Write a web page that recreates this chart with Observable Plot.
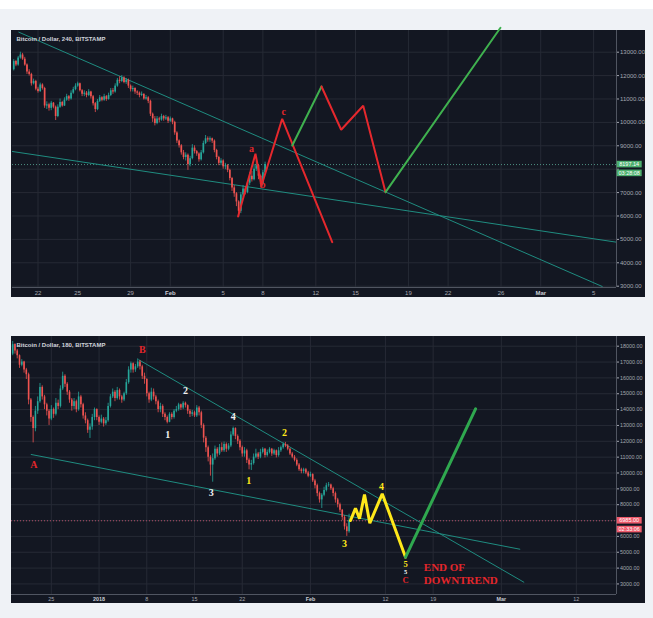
<!DOCTYPE html>
<html><head><meta charset="utf-8">
<script src="https://cdn.jsdelivr.net/npm/d3@7"></script>
<script src="https://cdn.jsdelivr.net/npm/@observablehq/plot@0.6"></script>
<style>
body{margin:0;background:#eff2f6;width:653px;height:618px;position:relative;overflow:hidden;font-family:"Liberation Sans",Arial,sans-serif}
#top{position:absolute;left:0;top:0;width:653px;height:9px;background:#fff}
#p1{position:absolute;left:11px;top:30px}
#p2{position:absolute;left:11px;top:336px}
svg{overflow:visible}
</style></head><body>
<div id="top"></div><div id="p1"></div><div id="p2"></div>
<script>
// ---------- Panel 1: Bitcoin / Dollar, 240, BITSTAMP ----------
const p1Title = "Bitcoin / Dollar, 240, BITSTAMP";
const p1Start = "2018-01-20T04:00Z"; // first 4h candle
const p1Open0 = 12250;
const p1Closes = [12600,12450,12750,12880,12700,12450,12150,12050,11650,11750,
11420,11320,11600,11450,10700,10750,10600,10820,10650,10250,
10650,10850,10700,10950,11100,11000,11250,11400,11550,11650,
11350,11200,11250,11150,11300,11100,10800,10550,10900,11050,
10950,11100,10980,11150,11350,11300,11550,11800,11750,11900,
11700,11800,11550,11400,11450,11300,11250,11150,11200,11000,
11050,10900,10350,10150,9950,10150,10100,10250,10150,10200,
10050,10150,10000,9550,9200,9000,8700,8500,8600,8200,
8450,8900,8750,8650,8400,8700,9100,9300,9250,9300,
9200,8800,8500,8250,8350,8100,8150,7950,7600,7200,
6950,6600,6200,6900,7150,7000,7400,7700,7550,8000,
8150,7700,7350,7850,8197.14];
const p1Highs = [12680,12650,12820,13000,12950,12780,12500,12250,12100,11850,
11800,11500,11680,11650,11500,10880,10820,10900,10850,10700,
10750,11000,10900,11050,11200,11150,11350,11500,11650,11720,
11680,11400,11350,11320,11400,11330,11150,10850,10980,11150,
11100,11200,11150,11250,11450,11450,11650,11880,11950,12000,
11950,11880,11850,11600,11550,11480,11350,11300,11300,11220,
11150,11100,10950,10400,10250,10250,10220,10350,10300,10300,
10250,10230,10180,10050,9600,9250,9050,8800,8700,8650,
8550,9050,9000,8800,8700,8800,9200,9440,9380,9380,
9330,9250,8850,8550,8450,8400,8250,8200,8000,7650,
7300,7000,6650,7000,7300,7250,7500,7850,7900,8200,
8350,8200,7750,7950,8300];
const p1Lows = [12200,12380,12400,12700,12650,12400,12050,11980,11550,11600,
11350,11250,11280,11380,10600,10550,10480,10500,10580,10080,
10200,10600,10650,10680,10900,10900,10950,11200,11350,11500,
11300,11100,11100,11050,11100,11000,10700,10420,10500,10850,
10880,10900,10900,10950,11100,11200,11250,11500,11650,11700,
11650,11620,11450,11300,11300,11200,11150,11050,11100,10950,
10950,10800,10250,10000,9850,9900,9980,10050,10050,10080,
9950,10000,9900,9450,9100,8900,8600,8400,8350,7950,
8100,8400,8650,8550,8300,8350,8650,9050,9150,9150,
9100,8700,8400,8150,8150,8000,7980,7850,7500,7050,
6800,6400,5950,6100,6800,6900,6950,7300,7450,7500,
7900,7550,7200,7300,7800];
const p1Last = 8197.14, p1LastText = "8197.14", p1Timer = "03:28:08";
const p1TickDates = ["2018-01-22","2018-01-25","2018-01-29","2018-02-01","2018-02-05","2018-02-08","2018-02-12","2018-02-15","2018-02-19","2018-02-22","2018-02-26","2018-03-01","2018-03-05"];
const p1TickLabels = ["22","25","29","Feb","5","8","12","15","19","22","26","Mar","5"];
const p1PriceTicks = [3000,4000,5000,6000,7000,8000,9000,10000,11000,12000,13000];
const p1HiddenPrice = [8000];
const p1TrendUpper = [["2018-01-20T13:12",13855],["2018-03-05T15:36",2987]];
const p1TrendLower = [["2018-01-20T01:40",8756],["2018-03-06T17:30",4880]];
const p1Red1 = [["2018-02-06T03:00",5979],["2018-02-07T10:30",8658],["2018-02-07T21:30",7303],["2018-02-09T11:00",10154],["2018-02-13T05:45",4880]];
const p1Green1 = [["2018-02-10T05:15",9013],["2018-02-12T10:20",11534]];
const p1Red2 = [["2018-02-12T10:20",11534],["2018-02-13T22:00",9684],["2018-02-15T14:00",10709],["2018-02-17T06:30",7017]];
const p1Green2 = [["2018-02-17T06:30",7017],["2018-02-25T23:00",14043]];
const p1Labels = [["2018-02-07T03:20",8871,"a"],["2018-02-07T23:45",7333,"b"],["2018-02-09T14:00",10436,"c"]];

// ---------- Panel 2: Bitcoin / Dollar, 180, BITSTAMP ----------
const p2Title = "Bitcoin / Dollar, 180, BITSTAMP";
const p2Start = "2017-12-19T08:00Z";
const p2Open0 = 17500;
const p2Closes = [18100,17700,17400,16800,17000,16500,16200,14600,13500,12800,
13900,14500,15400,14800,14300,13900,13400,14000,13700,14400,
14200,15300,16100,15600,15100,14600,14200,14500,14000,14800,
14300,13600,13300,12700,12900,13500,14000,13500,13200,13400,
13100,13300,14200,14800,15100,14700,15200,14800,14600,15000,
15700,16500,16900,16500,16700,17000,16700,16100,15900,15000,
14600,15100,14800,14500,14000,14200,13700,13500,13200,13700,
13500,13900,14000,14300,14100,14400,14250,13900,13700,13800,
13600,14100,13800,13000,12200,11600,11000,10500,10900,11500,
11200,11600,11400,11800,11500,11700,12400,12800,12300,12000,
11600,11200,11400,10800,10500,10600,11000,11200,11000,11300,
11500,11100,11300,11500,11200,11400,11100,11400,11600,11800,
11700,11500,11200,11000,10800,10500,10200,10100,10200,10000,
9800,9900,9500,9200,8700,8300,8600,8900,9200,9250,
9000,8700,8300,8000,7650,7200,6600,6300,6985];
const p2Highs = [18300,18150,17800,17450,17150,17050,16600,16300,14700,13600,
14200,14800,15650,15500,14900,14400,14000,14250,14100,14700,
14600,15500,16360,16200,15700,15200,14700,14700,14600,15100,
14900,14400,13800,13400,13100,13700,14100,14050,13600,13650,
13500,13500,14400,14950,15300,15200,15400,15300,14900,15100,
15900,16700,17000,16950,16850,17200,17100,16800,16300,15950,
15100,15350,15300,14900,14600,14400,14300,13800,13600,13800,
13800,14000,14200,14400,14350,14500,14470,14300,14000,13950,
13900,14250,14200,13900,13100,12300,11700,11100,11200,11700,
11600,11800,11900,11950,11900,11850,12600,12900,12850,12400,
12100,11700,11600,11500,10900,10800,11200,11500,11300,11500,
11600,11550,11450,11600,11550,11500,11450,11600,11700,11900,
11930,11800,11550,11300,11100,10900,10600,10300,10300,10290,
10100,10050,9950,9600,9300,8800,8700,9100,9350,9400,
9300,9100,8800,8400,8100,7700,7300,6800,7400];
const p2Lows = [17400,17500,17200,16600,16700,16300,15900,14300,13200,11900,
12600,13700,14400,14600,14000,13600,13000,13300,13450,13600,
14000,14100,15200,15400,14900,14400,13900,14000,13800,13900,
14100,13400,13100,12500,12180,12700,13300,13300,13000,13100,
12900,13000,13200,14100,14700,14500,14600,14600,14400,14500,
14900,15600,16300,16300,16350,16600,16500,15900,15600,14800,
14400,14500,14600,14300,13800,13800,13500,13300,13100,13170,
13350,13400,13800,13900,13950,14000,14100,13700,13500,13550,
13500,13500,13600,12800,11900,11300,10700,9800,9420,10800,
11000,11100,11300,11300,11300,11400,11600,12300,12100,11800,
11400,11000,11000,10600,10200,10160,10500,10900,10850,10900,
11200,10950,11000,11200,11050,11100,10950,11000,11300,11500,
11600,11400,11100,10900,10700,10400,10100,9950,9950,9900,
9700,9720,9400,9000,8500,8100,7760,8500,8800,9100,
8900,8500,8100,7800,7500,7000,6400,6000,6200];
const p2Last = 6985, p2LastText = "6985.00", p2Timer = "02:33:06";
const p2TickDates = ["2017-12-25","2018-01-01","2018-01-08","2018-01-15","2018-01-22","2018-02-01","2018-02-12","2018-02-19","2018-03-01","2018-03-12"];
const p2TickLabels = ["25","2018","8","15","22","Feb","12","19","Mar","12"];
const p2PriceTicks = [3000,4000,5000,6000,7000,8000,9000,10000,11000,12000,13000,14000,15000,16000,17000,18000];
const p2HiddenPrice = [7000];
const p2TrendUpper = [["2018-01-06T20:00",17142],["2018-03-04T07:10",3110]];
const p2TrendLower = [["2017-12-22T01:10",11167],["2018-03-03T17:00",5192]];
const p2Yellow = [["2018-02-06T21:07",7003],["2018-02-07T14:38",7779],["2018-02-08T04:48",7110],["2018-02-08T22:19",8644],["2018-02-09T17:02",6833],["2018-02-11T12:43",8688],["2018-02-14T22:48",4688]];
const p2Green = [["2018-02-14T22:48",4688],["2018-02-25T05:17",14050]];
const p2Labels = [
  ["2017-12-22T10:20",10536,"A","red",10],
  ["2018-01-07T08:00",17773,"B","red",10],
  ["2018-01-13T16:20",15205,"2","white",10],
  ["2018-01-11T02:00",12429,"1","white",10],
  ["2018-01-20T16:00",13565,"4","white",10],
  ["2018-01-17T10:50",8726,"3","white",10],
  ["2018-01-28T04:50",12555,"2","yellow",10],
  ["2018-01-22T23:00",9483,"1","yellow",10],
  ["2018-02-06T00:00",5533,"3","yellow",10],
  ["2018-02-11T10:20",9104,"4","yellow",10],
  ["2018-02-14T22:50",4260,"5","yellow",8.5],
  ["2018-02-14T22:50",3754,"5","white",6.5],
  ["2018-02-14T22:50",3230,"C","red",8.5]
];
const p2Notes = [["2018-02-17T15:10",4030,"END OF"],["2018-02-17T15:10",3240,"DOWNTREND"]];

// ---------- helpers ----------
const UP = "#26a69a", DOWN = "#ef5350";
const GRID = "#262a35", BORDER = "#505561", TREND = "#1f8c80";
const LABEL_COLORS = {red: "#e3262b", white: "#f2f2f2", yellow: "#ffe81a"};
const toDate = s => new Date(s.endsWith("Z") ? s : s + "Z");
const pts = arr => arr.map(([d, v]) => ({date: toDate(d), value: v}));
function candles(start, stepH, open0, closes, highs, lows) {
  const t0 = Date.parse(start);
  return closes.map((c, i) => ({
    date: new Date(t0 + i * stepH * 3600e3),
    open: i ? closes[i - 1] : open0, close: c, high: highs[i], low: lows[i]
  }));
}
const col = d => d.close >= d.open ? UP : DOWN;

function panel(o) {
  const tickDates = o.tickDates.map(s => toDate(s + "T00:00"));
  const cs = o.candles;
  const marks = [
    Plot.ruleY(o.priceTicks, {stroke: GRID}),
    Plot.ruleX(tickDates, {stroke: GRID}),
    Plot.ruleY([o.last], {stroke: o.lastLine, strokeDasharray: "1,2", strokeWidth: 1}),
    ...o.trends.map(t => Plot.line(pts(t), {x: "date", y: "value", stroke: TREND, strokeWidth: 1})),
    Plot.ruleX(cs, {x: "date", y1: "low", y2: "high", stroke: col, strokeWidth: 0.8}),
    Plot.ruleX(cs, {x: "date", y1: "open", y2: "close", stroke: col, strokeWidth: o.bodyW}),
    ...o.paths.map(p => Plot.line(pts(p.data), {x: "date", y: "value", stroke: p.color, strokeWidth: p.w, strokeLinejoin: "miter"})),
    Plot.text([o.title], {frameAnchor: "top-left", textAnchor: "start", lineAnchor: "middle", dx: o.titleDx, dy: 9, fill: "#d1d4dc", fontWeight: "bold", fontSize: 6, fontFamily: "Liberation Sans, Arial, sans-serif"}),
    Plot.text(o.labels, {x: d => toDate(d[0]), y: d => d[1], text: d => d[2], fill: d => LABEL_COLORS[d[3]], fontSize: d => d[4], fontWeight: "bold", fontFamily: "Liberation Serif, DejaVu Serif, serif"}),
    ...(o.notes ? [Plot.text(o.notes, {x: d => toDate(d[0]), y: d => d[1], text: d => d[2], fill: LABEL_COLORS.red, fontSize: 11, fontWeight: "bold", textAnchor: "start", fontFamily: "Liberation Serif, DejaVu Serif, serif"})] : []),
    Plot.ruleX([o.xDomain[1]], {stroke: BORDER}),
    Plot.ruleY([o.yDomain[0]], {stroke: BORDER})
  ];
  const plot = Plot.plot({
    width: 634, height: 267,
    marginLeft: o.mLeft, marginRight: 29, marginTop: 0, marginBottom: o.mBottom,
    style: {background: "#131722", color: "#a4a7b0", fontSize: o.axisFont + "px", fontFamily: "Liberation Sans, Arial, sans-serif", overflow: "visible"},
    x: {type: "utc", domain: o.xDomain, ticks: tickDates, label: null, tickSize: 0, tickPadding: o.xPad,
        tickFormat: d => o.tickLabels[tickDates.findIndex(t => +t === +d)]},
    y: {domain: o.yDomain, axis: "right", ticks: o.priceTicks, label: null, tickSize: 2, tickPadding: 1.5,
        tickFormat: v => o.hidden.includes(v) ? "" : v.toFixed(2)},
    marks
  });
  // bold month/year labels
  d3.select(plot).selectAll("text").each(function () {
    const t = this.textContent;
    if (t === "Feb" || t === "Mar" || t === "2018") d3.select(this).attr("font-weight", "bold").attr("fill", "#c9ccd4");
  });
  // last-price tag boxes on the price scale
  const ys = plot.scale("y"), xs = plot.scale("x");
  const yOf = v => ys.range[0] + (v - ys.domain[0]) / (ys.domain[1] - ys.domain[0]) * (ys.range[1] - ys.range[0]);
  const x0 = xs.range[1] + 0.7, y0 = yOf(o.last);
  const g = d3.select(plot).append("g").attr("font-family", "Liberation Sans, Arial, sans-serif").attr("font-size", 5.5).attr("fill", "#fff").attr("text-anchor", "middle");
  [[o.lastText, 0], [o.timer, 8.8]].forEach(([txt, off]) => {
    g.append("rect").attr("x", x0).attr("y", y0 + off - 3.3).attr("width", 25).attr("height", 6.6).attr("fill", o.tagColor);
    g.append("text").attr("x", x0 + 12.5).attr("y", y0 + off).attr("dy", "0.35em").text(txt);
  });
  return plot;
}

const c1 = candles(p1Start, 4, p1Open0, p1Closes, p1Highs, p1Lows);
document.getElementById("p1").append(panel({
  title: p1Title, titleDx: 4, candles: c1, bodyW: 1.7,
  xDomain: [toDate("2018-01-20T01:44"), toDate("2018-03-06T17:30")],
  yDomain: [2944, 13927], mLeft: 1, mBottom: 10, xPad: 3, axisFont: 6,
  tickDates: p1TickDates, tickLabels: p1TickLabels, priceTicks: p1PriceTicks, hidden: p1HiddenPrice,
  last: p1Last, lastText: p1LastText, timer: p1Timer, lastLine: "#4d8f82", tagColor: "#4caf6e",
  trends: [p1TrendUpper, p1TrendLower],
  paths: [
    {data: p1Red1, color: "#e5282d", w: 2},
    {data: p1Green1, color: "#3fb14f", w: 2},
    {data: p1Red2, color: "#e5282d", w: 2},
    {data: p1Green2, color: "#3fb14f", w: 2}
  ],
  labels: p1Labels.map(d => [d[0], d[1], d[2], "red", 10])
}));

const c2 = candles(p2Start, 8, p2Open0, p2Closes, p2Highs, p2Lows);
document.getElementById("p2").append(panel({
  title: p2Title, titleDx: 5, candles: c2, bodyW: 1.6,
  xDomain: [toDate("2017-12-19T03:47"), toDate("2018-03-17T21:20")],
  yDomain: [2334, 18612], mLeft: 0, mBottom: 9, xPad: 2.5, axisFont: 5.4,
  tickDates: p2TickDates, tickLabels: p2TickLabels, priceTicks: p2PriceTicks, hidden: p2HiddenPrice,
  last: p2Last, lastText: p2LastText, timer: p2Timer, lastLine: "#b5506a", tagColor: "#ee5a6a",
  trends: [p2TrendUpper, p2TrendLower],
  paths: [
    {data: p2Yellow, color: "#ffe81a", w: 3},
    {data: p2Green, color: "#2fa84f", w: 3}
  ],
  labels: p2Labels, notes: p2Notes
}));
</script>
</body></html>
